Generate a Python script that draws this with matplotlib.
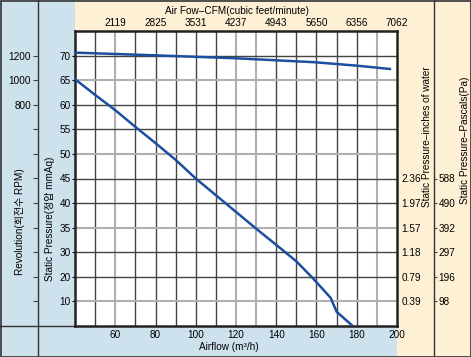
import numpy as np
import matplotlib
matplotlib.use('Agg')
import matplotlib.pyplot as plt
from matplotlib.patches import Rectangle

plt.rcParams['font.family'] = ['Liberation Sans', 'Noto Sans CJK KR', 'DejaVu Sans']

# ---- data ----
airflow = [40, 50, 60, 70, 80, 90, 100, 110, 120, 130, 140, 150, 158, 167, 170, 178]        # m3/h
pressure = [65.2, 62, 58.9, 55.5, 52.2, 48.8, 45, 41.6, 38.2, 34.8, 31.5, 26.3, 19.6, 11.5, 5.8, 0]  # mmAq

rpm_airflow = [40, 80, 120, 159, 180, 196.5]
rpm = [1224, 1202, 1178, 1146, 1118, 1091]

# left axis labels are not evenly spaced in value, only in position
mmaq_steps = [0, 10, 20, 30, 35, 40, 45, 50, 55, 60, 65, 70, 75]
mmaq_ticks = [10, 20, 30, 35, 40, 45, 50, 55, 60, 65, 70]
right_ticks = [10, 20, 30, 35, 40, 45]
inch_labels = ['0.39', '0.79', '1.18', '1.57', '1.97', '2.36']
pa_labels = ['98', '196', '297', '392', '490', '588']

x_ticks = [60, 80, 100, 120, 140, 160, 180, 200]
cfm_labels = ['2119', '2825', '3531', '4237', '4943', '5650', '6356', '7062']

rpm_ticks = [-800, -600, -400, -200, 0, 200, 400, 600, 800, 1000, 1200]
rpm_labels = [''] * 8 + ['800', '1000', '1200']

BLUE = '#cde2ed'
BEIGE = '#fdf0d4'
LINE = '#1b4f9f'
DARK = '#333333'

# grid lines that look lighter in the original scan
light_v = (60, 120, 130, 190)
light_h = (10, 35, 50, 65)

def fwd(v):
    return np.interp(v, mmaq_steps, np.arange(len(mmaq_steps)))

def inv(p):
    return np.interp(p, np.arange(len(mmaq_steps)), mmaq_steps)

W, H = 471, 357
fig = plt.figure(figsize=(W / 100, H / 100), dpi=100)

# background panels in pixel coords
bg = fig.add_axes([0, 0, 1, 1], zorder=-5)
bg.set_xlim(0, W)
bg.set_ylim(H, 0)
bg.axis('off')
bg.add_patch(Rectangle((0, 0), 75, H, color=BLUE, lw=0))
bg.add_patch(Rectangle((0, 326), 397, H - 326, color=BLUE, lw=0))
bg.add_patch(Rectangle((75, 0), W - 75, 31, color=BEIGE, lw=0))
bg.add_patch(Rectangle((397, 31), W - 397, H - 31, color=BEIGE, lw=0))
bg.plot([38, 38], [0, H], color=DARK, lw=1)
bg.plot([434, 434], [0, H], color=DARK, lw=1)
bg.plot([0, 75], [326, 326], color=DARK, lw=1)
bg.add_patch(Rectangle((0.5, 0.5), W - 1, H - 1, fill=False, ec=DARK, lw=1.2))

bg.text(237, 11, 'Air Fow–CFM(cubic feet/minute)', ha='center', va='center', fontsize=7.2)
bg.text(229, 347, 'Airflow (m³/h)', ha='center', va='center', fontsize=7.2)
bg.text(20, 222, 'Revolution(회전수 RPM)', rotation=90, ha='center', va='center', fontsize=7.2)
bg.text(50, 219, 'Static Pressure(정압 mmAq)', rotation=90, ha='center', va='center', fontsize=7.2)
bg.text(427, 137, 'Static Pressure–inches of water', rotation=90, ha='center', va='center', fontsize=7.2)
bg.text(465, 140, 'Static Pressure–Pascals(Pa)', rotation=90, ha='center', va='center', fontsize=7.2)

# main plot
ax = fig.add_axes([75 / W, 31 / H, 322 / W, 295 / H])
ax.set_facecolor('white')
ax.set_yscale('function', functions=(fwd, inv))
ax.set_xlim(40, 200)
ax.set_ylim(0, 75)

for v in range(50, 200, 10):
    if v in light_v:
        ax.axvline(v, color='#b0b0b0', lw=1.5, zorder=1)
    else:
        ax.axvline(v, color='#444444', lw=1, zorder=1)
for v in mmaq_ticks:
    if v in light_h:
        ax.axhline(v, color='#b0b0b0', lw=1.5, zorder=1)
    else:
        ax.axhline(v, color='#444444', lw=1, zorder=1)

ax.plot(airflow, pressure, color=LINE, lw=1.8, zorder=3)

ax.set_xticks(x_ticks)
ax.set_xticklabels([str(t) for t in x_ticks])
ax.set_yticks(mmaq_ticks)
ax.set_yticklabels([str(t) for t in mmaq_ticks])
ax.yaxis.set_minor_locator(matplotlib.ticker.NullLocator())
ax.tick_params(axis='x', length=0, pad=3, labelsize=7.2)
ax.tick_params(axis='y', direction='out', length=2.5, width=0.8, pad=0.5, labelsize=7.2)
for s in ax.spines.values():
    s.set_linewidth(1.8)
    s.set_color('#222222')

top = ax.secondary_xaxis('top')
top.set_xticks(x_ticks)
top.set_xticklabels(cfm_labels)
top.tick_params(length=0, pad=2.5, labelsize=7.2)
top.spines['top'].set_visible(False)

# revolution axis (shares the airflow axis)
ax_rpm = ax.twinx()
ax_rpm.set_ylim(-1000, 1400)
ax_rpm.plot(rpm_airflow, rpm, color=LINE, lw=1.8, zorder=3)
ax_rpm.yaxis.tick_left()
ax_rpm.spines['left'].set_position(('axes', -37 / 322))
ax_rpm.set_yticks(rpm_ticks)
ax_rpm.set_yticklabels(rpm_labels)
ax_rpm.tick_params(axis='y', direction='out', length=3.6, width=0.8, color='#444444', pad=1.5, labelsize=7.2)
for s in ax_rpm.spines.values():
    s.set_visible(False)

# inches of water
ax_in = ax.twinx()
ax_in.set_yscale('function', functions=(fwd, inv))
ax_in.set_ylim(0, 75)
ax_in.set_yticks(right_ticks)
ax_in.set_yticklabels(inch_labels)
ax_in.yaxis.set_minor_locator(matplotlib.ticker.NullLocator())
ax_in.tick_params(axis='y', length=0, pad=3, labelsize=7.2)
for s in ax_in.spines.values():
    s.set_visible(False)

# pascals
ax_pa = ax.twinx()
ax_pa.set_yscale('function', functions=(fwd, inv))
ax_pa.set_ylim(0, 75)
ax_pa.spines['right'].set_position(('axes', (434 - 75) / 322))
ax_pa.set_yticks(right_ticks)
ax_pa.set_yticklabels(pa_labels)
ax_pa.yaxis.set_minor_locator(matplotlib.ticker.NullLocator())
ax_pa.tick_params(axis='y', direction='out', length=2.2, width=0.8, color='#444444', pad=1, labelsize=7.2)
for s in ax_pa.spines.values():
    s.set_visible(False)

fig.savefig('out.png', dpi=100)
